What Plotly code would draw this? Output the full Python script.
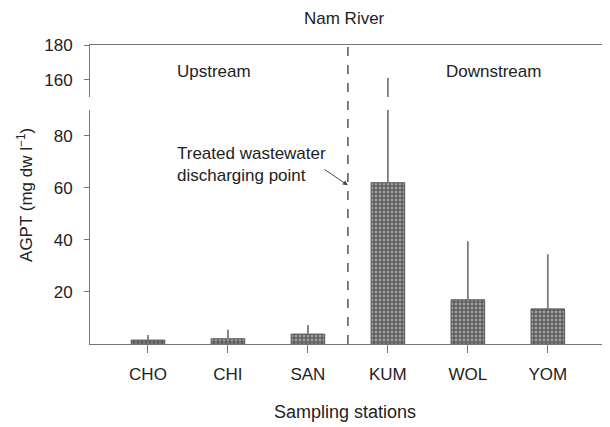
import plotly.graph_objects as go

stations = ["CHO", "CHI", "SAN", "KUM", "WOL", "YOM"]
agpt = [1.5, 2.0, 3.8, 62, 17, 13.5]
agpt_err = [2.0, 3.5, 3.5, 99, 22.5, 21]
lower_ticks = [20, 40, 60, 80]
upper_ticks = [160, 180]

FONT = "Liberation Sans, Arial, sans-serif"
AX = "#777"
FS = 17

fig = go.Figure()

def bar_trace(xaxis, yaxis):
    return go.Bar(
        x=stations, y=agpt, xaxis=xaxis, yaxis=yaxis, width=0.42,
        marker=dict(color="#777", line=dict(color="#555", width=1),
                    pattern=dict(shape=".", fgcolor="#e8e8e8", bgcolor="#5a5a5a",
                                 size=4, solidity=0.45)),
        error_y=dict(type="data", array=agpt_err, arrayminus=[0] * len(agpt),
                     symmetric=False, color="#7a7a7a", thickness=1.8, width=0),
        showlegend=False, hoverinfo="x+y")

fig.add_trace(bar_trace("x", "y"))
fig.add_trace(bar_trace("x2", "y2"))

xr = [-0.725, 5.74]
fig.update_layout(
    width=610, height=427,
    margin=dict(l=82, r=11, t=37, b=91),
    paper_bgcolor="white", plot_bgcolor="white",
    font=dict(family=FONT, size=FS, color="#222"),
    xaxis=dict(type="category", range=xr, showline=True, linecolor=AX, linewidth=1,
               ticks="outside", ticklen=8, tickcolor=AX, ticklabelstandoff=7,
               showgrid=False, zeroline=False, anchor="y",
               tickfont=dict(size=FS)),
    xaxis2=dict(type="category", range=xr, matches="x", showline=True, linecolor=AX,
                linewidth=1, side="top", showticklabels=False, ticks="",
                showgrid=False, zeroline=False, anchor="y2"),
    yaxis=dict(domain=[0, 0.783], range=[0, 90], tickvals=lower_ticks,
               showline=True, linecolor=AX, linewidth=1, mirror=True,
               ticks="outside", ticklen=5, tickcolor=AX, ticklabelstandoff=8,
               showgrid=False, zeroline=False, anchor="x", tickfont=dict(size=FS)),
    yaxis2=dict(domain=[0.826, 1], range=[150, 180], tickvals=upper_ticks,
                showline=True, linecolor=AX, linewidth=1, mirror=True,
                ticks="outside", ticklen=5, tickcolor=AX, ticklabelstandoff=8,
                showgrid=False, zeroline=False, anchor="x2", tickfont=dict(size=FS)),
    bargap=0.5,
)

fig.add_shape(type="line", xref="x", yref="paper", x0=2.5, x1=2.5, y0=0, y1=1,
              line=dict(color="#555", width=1.5, dash="dash"))

ann = [
    dict(text="Nam River", x=0.493, y=1.09),
    dict(text="Upstream", x=0.240, y=0.910),
    dict(text="Downstream", x=0.781, y=0.910),
    dict(text="Sampling stations", x=0.493, y=-0.227, size=18),
    dict(text="AGPT (mg dw l<sup>−1</sup>)", x=-0.126, y=0.498, angle=-90),
]
for a in ann:
    fig.add_annotation(text=a["text"], xref="paper", yref="paper", x=a["x"], y=a["y"],
                       showarrow=False, xanchor="center", yanchor="middle",
                       textangle=a.get("angle", 0),
                       font=dict(family=FONT, size=a.get("size", FS), color="#222"))

fig.add_annotation(text="Treated wastewater<br>discharging point", xref="paper", yref="paper",
                   x=0.164, y=0.602, xanchor="left", yanchor="middle", align="left",
                   showarrow=False, font=dict(family=FONT, size=FS, color="#222"))
fig.add_annotation(text="", xref="x", yref="y", x=2.5, y=61, ax=-25, ay=-17,
                   showarrow=True, arrowhead=2, arrowsize=1, arrowwidth=1,
                   arrowcolor="#444")

fig.write_html("out.html")
